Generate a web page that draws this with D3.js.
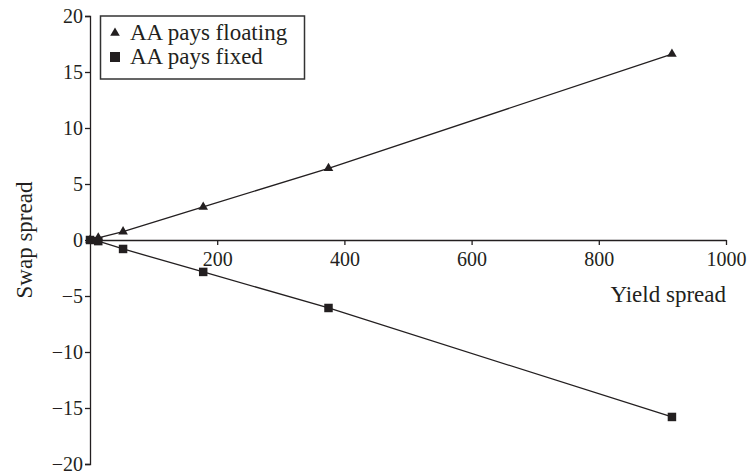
<!DOCTYPE html>
<html>
<head>
<meta charset="utf-8">
<script src="https://cdn.jsdelivr.net/npm/d3@7"></script>
<style>
  body { margin: 0; background: #fff; }
  svg { font-family: "Liberation Serif", "Times New Roman", serif; }
</style>
</head>
<body>
<svg width="750" height="476"></svg>
<script>
var ink = "#231f20";

// data
var yieldSpread = [0, 13, 52, 178, 375, 915];
var paysFloating = [0, 0.2, 0.75, 2.95, 6.4, 16.6];
var paysFixed = [0, -0.1, -0.8, -2.85, -6.07, -15.8];
var xTicks = [200, 400, 600, 800, 1000];
var yTicks = [-20, -15, -10, -5, 0, 5, 10, 15, 20];
var seriesNames = ["AA pays floating", "AA pays fixed"];

var svg = d3.select("svg");

var x = d3.scaleLinear().domain([0, 1000]).range([90, 726]);
var y = d3.scaleLinear().domain([-20, 20]).range([464, 16]);

// y axis on the left
var yAxis = d3.axisLeft(y).tickValues(yTicks).tickSize(5).tickSizeOuter(5)
    .tickFormat(function(d) { return d < 0 ? "\u2212" + Math.abs(d) : d; });
var yg = svg.append("g")
    .attr("transform", "translate(" + x(0) + ",0)")
    .call(yAxis);

// x axis through zero
var xAxis = d3.axisBottom(x).tickValues(xTicks).tickSize(5).tickSizeOuter(0)
    .tickFormat(d3.format("d"));
var xg = svg.append("g")
    .attr("transform", "translate(0," + y(0) + ")")
    .call(xAxis);

[yg, xg].forEach(function(g) {
    g.selectAll("path, line").attr("stroke", ink).attr("stroke-width", 1.3);
    g.selectAll("text").attr("fill", ink).attr("font-size", "20px")
        .attr("font-family", "Liberation Serif, Times New Roman, serif");
});
yg.selectAll("text").attr("x", -7);
xg.selectAll("text").attr("y", 12);

// axis titles
svg.append("text")
    .attr("x", 726)
    .attr("y", 302)
    .attr("text-anchor", "end")
    .attr("font-size", "23px")
    .attr("fill", ink)
    .text("Yield spread");

svg.append("text")
    .attr("transform", "translate(32," + y(0) + ") rotate(-90)")
    .attr("text-anchor", "middle")
    .attr("font-size", "23px")
    .attr("fill", ink)
    .text("Swap spread");

// lines
var rows = yieldSpread.map(function(v, i) {
    return { x: v, fl: paysFloating[i], fx: paysFixed[i] };
});

var lineFl = d3.line().x(function(d) { return x(d.x); }).y(function(d) { return y(d.fl); });
var lineFx = d3.line().x(function(d) { return x(d.x); }).y(function(d) { return y(d.fx); });

svg.append("path").datum(rows).attr("d", lineFl)
    .attr("fill", "none").attr("stroke", ink).attr("stroke-width", 1.3);
svg.append("path").datum(rows).attr("d", lineFx)
    .attr("fill", "none").attr("stroke", ink).attr("stroke-width", 1.3);

// markers
var tri = d3.symbol().type(d3.symbolTriangle).size(40);
var sq = d3.symbol().type(d3.symbolSquare).size(72);

svg.selectAll(".tri").data(rows).enter().append("path")
    .attr("class", "tri")
    .attr("d", tri)
    .attr("transform", function(d) { return "translate(" + x(d.x) + "," + y(d.fl) + ")"; })
    .attr("fill", ink);

svg.selectAll(".sq").data(rows).enter().append("path")
    .attr("class", "sq")
    .attr("d", sq)
    .attr("transform", function(d) { return "translate(" + x(d.x) + "," + y(d.fx) + ")"; })
    .attr("fill", ink);

// legend
var legend = svg.append("g");
legend.append("rect")
    .attr("x", 100.5).attr("y", 16)
    .attr("width", 204).attr("height", 63)
    .attr("fill", "#fff").attr("stroke", "#333").attr("stroke-width", 1.5);

legend.append("path").attr("d", tri)
    .attr("transform", "translate(115,33)").attr("fill", ink);
legend.append("path").attr("d", d3.symbol().type(d3.symbolSquare).size(100))
    .attr("transform", "translate(115,57)").attr("fill", ink);

legend.selectAll(".lt").data(seriesNames).enter().append("text")
    .attr("class", "lt")
    .attr("x", 130)
    .attr("y", function(d, i) { return 40 + i * 24; })
    .attr("font-size", "23px")
    .attr("fill", ink)
    .text(function(d) { return d; });
</script>
</body>
</html>
